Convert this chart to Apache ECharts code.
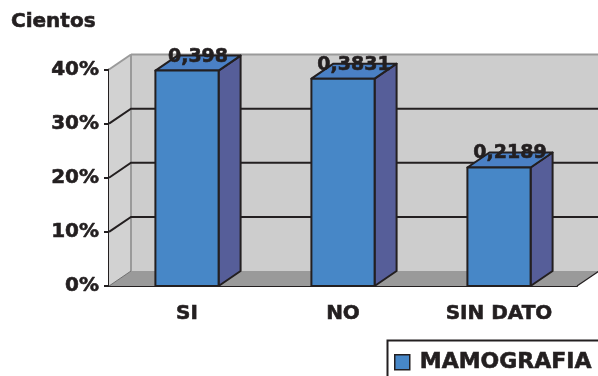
<!DOCTYPE html>
<html>
<head>
<meta charset="utf-8">
<script src="https://cdn.jsdelivr.net/npm/echarts@6/dist/echarts.min.js"></script>
<style>
  html, body { margin: 0; padding: 0; background: #ffffff; }
  #chart { width: 598px; height: 376px; }
</style>
</head>
<body>
<div id="chart"></div>
<script>
// Mammography responses, shares of the total
var categories = ['SI', 'NO', 'SIN DATO'];
var values = [0.398, 0.3831, 0.2189];
var seriesName = 'MAMOGRAFIA';
var yTicks = [0, 0.1, 0.2, 0.3, 0.4];

var FONT = '"DejaVu Sans", sans-serif';
var INK = '#231f20';
// slight outline to give the bold text a heavier look
var HEAVY = { textBorderColor: INK, textBorderWidth: 0.6 };
// depth offset of the 3D box (pixels)
var DX = 22, DY = -15;

var chart = echarts.init(document.getElementById('chart'));

function renderWalls(params, api) {
  var cs = params.coordSys;
  var x0 = cs.x, x1 = cs.x + cs.width;
  var yTop = cs.y, yBot = cs.y + cs.height;
  var children = [];
  // left side wall
  children.push({ type: 'polygon', shape: { points: [[x0, yBot], [x0 + DX, yBot + DY], [x0 + DX, yTop + DY], [x0, yTop]] },
    style: { fill: '#d2d2d2', stroke: null } });
  // back wall
  children.push({ type: 'rect', shape: { x: x0 + DX, y: yTop + DY, width: cs.width, height: cs.height },
    style: { fill: '#cdcdcd', stroke: null } });
  // floor
  children.push({ type: 'polygon', shape: { points: [[x0, yBot], [x1, yBot], [x1 + DX, yBot + DY], [x0 + DX, yBot + DY]] },
    style: { fill: '#9a9a9a', stroke: null } });
  // back wall edges
  children.push({ type: 'line', shape: { x1: x0 + DX, y1: yTop + DY, x2: x0 + DX, y2: yBot + DY }, style: { stroke: '#9a9a9a', lineWidth: 2 } });
  children.push({ type: 'line', shape: { x1: x0 + DX, y1: yTop + DY, x2: x1 + DX + 5, y2: yTop + DY }, style: { stroke: '#9a9a9a', lineWidth: 2 } });
  children.push({ type: 'line', shape: { x1: x0, y1: yTop, x2: x0 + DX, y2: yTop + DY }, style: { stroke: '#9a9a9a', lineWidth: 2 } });
  children.push({ type: 'line', shape: { x1: x0, y1: yBot, x2: x0 + DX, y2: yBot + DY }, style: { stroke: '#6f6f6f', lineWidth: 1 } });
  children.push({ type: 'line', shape: { x1: x1, y1: yBot, x2: x1 + DX, y2: yBot + DY }, style: { stroke: INK, lineWidth: 1.2 } });
  // gridlines on the walls
  yTicks.forEach(function (v) {
    if (v === 0 || v === yTicks[yTicks.length - 1]) return;
    var y = api.coord([0, v])[1];
    children.push({ type: 'polyline', shape: { points: [[x0, y], [x0 + DX, y + DY], [x1 + DX + 5, y + DY]] },
      style: { stroke: INK, lineWidth: 2, fill: null } });
  });
  return { type: 'group', children: children };
}

function renderBar(params, api) {
  var idx = api.value(0);
  var v = api.value(1);
  var top = api.coord([idx, v]);
  var base = api.coord([idx, 0]);
  var w = api.size([1, 0])[0] * 0.405;
  var l = top[0] - w / 2, r = top[0] + w / 2;
  var t = top[1], b = base[1];
  var edge = { stroke: INK, lineWidth: 2, lineJoin: 'round' };
  return {
    type: 'group',
    children: [
      { type: 'polygon', shape: { points: [[r, b], [r + DX, b + DY], [r + DX, t + DY], [r, t]] },
        style: Object.assign({ fill: '#565e99' }, edge) },
      { type: 'polygon', shape: { points: [[l, t], [r, t], [r + DX, t + DY], [l + DX, t + DY]] },
        style: Object.assign({ fill: '#4a80c5' }, edge) },
      { type: 'rect', shape: { x: l, y: t, width: w, height: b - t },
        style: Object.assign({ fill: '#4787c7' }, edge) },
      { type: 'text', x: top[0] + DX / 2, y: t + DY + 1,
        style: { text: String(v).replace('.', ','), font: 'bold 19px ' + FONT, fill: INK,
          stroke: INK, lineWidth: 0.6, align: 'center', verticalAlign: 'middle' } }
    ]
  };
}

chart.setOption({
  animation: false,
  backgroundColor: '#ffffff',
  title: {
    text: 'Cientos', left: 11, top: 12, padding: 0,
    textStyle: Object.assign({ fontFamily: FONT, fontWeight: 'bold', fontSize: 20, color: INK }, HEAVY)
  },
  legend: {
    data: [seriesName], left: 394, top: 351, padding: 0,
    icon: 'rect', itemWidth: 15, itemHeight: 15,
    itemStyle: { borderColor: INK, borderWidth: 1.5 },
    textStyle: Object.assign({ fontFamily: FONT, fontWeight: 'bold', fontSize: 22, color: INK, padding: [0, 0, 0, 5] }, HEAVY)
  },
  graphic: [{
    type: 'rect', left: 385, top: 338, silent: true,
    shape: { width: 260, height: 60 },
    style: { fill: null, stroke: INK, lineWidth: 2 }
  }],
  grid: { left: 109, right: 21, top: 69.5, bottom: 90 },
  xAxis: {
    type: 'category', data: categories,
    axisLine: { lineStyle: { color: INK, width: 2 } },
    axisTick: { length: 6, lineStyle: { color: INK, width: 2 } },
    axisLabel: Object.assign({ margin: 18, fontFamily: FONT, fontWeight: 'bold', fontSize: 20, color: INK }, HEAVY)
  },
  yAxis: {
    type: 'value', min: 0, max: 0.4, interval: 0.1,
    axisLine: { show: true, lineStyle: { color: INK, width: 2 } },
    axisTick: { show: true, length: 5, lineStyle: { color: INK, width: 2 } },
    splitLine: { show: false },
    axisLabel: Object.assign({
      margin: 10, fontFamily: FONT, fontWeight: 'bold', fontSize: 20, color: INK,
      formatter: function (v) { return Math.round(v * 100) + '%'; }
    }, HEAVY)
  },
  series: [
    { type: 'custom', name: 'walls', z: 1, silent: true, renderItem: renderWalls, data: [[0, 0]], encode: { x: 0, y: 1 } },
    {
      type: 'custom', name: seriesName, z: 3, renderItem: renderBar,
      itemStyle: { color: '#4787c7' },
      encode: { x: 0, y: 1 },
      data: values.map(function (v, i) { return [i, v]; })
    }
  ]
});
</script>
</body>
</html>
